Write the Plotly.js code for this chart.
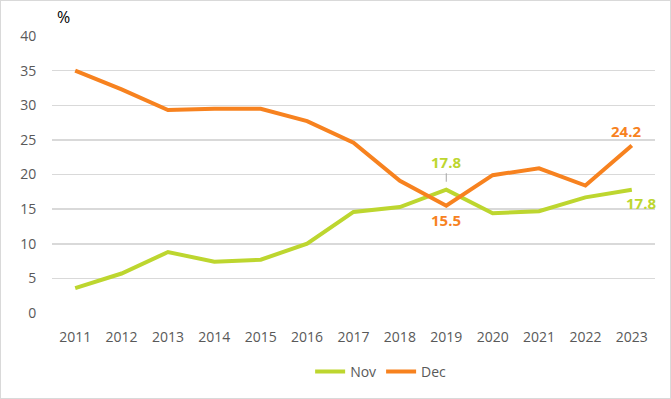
<!DOCTYPE html>
<html>
<head>
<meta charset="utf-8">
<script src="https://cdn.plot.ly/plotly-3.0.1.min.js"></script>
<style>
html,body{margin:0;padding:0;background:#fff;}
#wrap{position:relative;width:671px;height:399px;}
#chart{width:671px;height:399px;}
#frame{position:absolute;left:0;top:0;width:669px;height:397px;border:1px solid #d9d9d9;pointer-events:none;}
</style>
</head>
<body>
<div id="wrap"><div id="chart"></div><div id="frame"></div></div>
<script>
const years = ['2011','2012','2013','2014','2015','2016','2017','2018','2019','2020','2021','2022','2023'];
const nov = [3.6, 5.7, 8.8, 7.4, 7.7, 10.0, 14.6, 15.3, 17.8, 14.4, 14.7, 16.7, 17.8];
const dec = [35.0, 32.3, 29.3, 29.5, 29.5, 27.7, 24.6, 19.1, 15.5, 19.9, 20.9, 18.4, 24.2];
const yTicks = [0, 5, 10, 15, 20, 25, 30, 35, 40];

const green = '#bdd62f';
const orange = '#f7821f';
const font = 'Open Sans, Liberation Sans, sans-serif';

const traces = [
  {x: years, y: nov, name: 'Nov', type: 'scatter', mode: 'lines', line: {color: green, width: 4}},
  {x: years, y: dec, name: 'Dec', type: 'scatter', mode: 'lines', line: {color: orange, width: 4}}
];

const i19 = years.indexOf('2019');
const i23 = years.indexOf('2023');

const layout = {
  width: 671, height: 399,
  margin: {l: 52, r: 16, t: 36, b: 86, autoexpand: false},
  paper_bgcolor: '#fff', plot_bgcolor: '#fff',
  font: {family: font, size: 14, color: '#595959'},
  showlegend: true,
  legend: {orientation: 'h', x: 0.545, xanchor: 'center', y: -0.155, yanchor: 'top',
           font: {family: font, size: 14, color: '#595959'}},
  xaxis: {type: 'category', range: [-0.5, 12.5], showgrid: false, zeroline: false,
          showline: false, ticks: 'outside', ticklen: 11, tickcolor: 'rgba(0,0,0,0)',
          tickfont: {family: font, size: 14, color: '#595959'}, fixedrange: true},
  yaxis: {range: [0, 40], tickvals: yTicks, showgrid: true, gridcolor: '#d9d9d9', gridwidth: 1.5,
          zeroline: false, showline: false, ticks: 'outside', ticklen: 12, tickcolor: 'rgba(0,0,0,0)',
          tickfont: {family: font, size: 14, color: '#595959'}, fixedrange: true},
  annotations: [
    {xref: 'paper', yref: 'paper', x: 0.005, y: 1.02, xanchor: 'left', yanchor: 'bottom',
     text: '%', showarrow: false, font: {family: font, size: 16, color: '#000'}},
    {xref: 'x', yref: 'y', x: i19, y: nov[i19], text: '<b>' + nov[i19].toFixed(1) + '</b>', showarrow: true, arrowhead: 0,
     arrowwidth: 1, arrowcolor: '#a6a6a6', ax: 0, ay: -28, standoff: 8,
     font: {family: font, size: 15, color: green}},
    {xref: 'x', yref: 'y', x: i19, y: dec[i19], text: '<b>' + dec[i19].toFixed(1) + '</b>', showarrow: false,
     yshift: -14, font: {family: font, size: 15, color: orange}},
    {xref: 'x', yref: 'y', x: i23, y: dec[i23], text: '<b>' + dec[i23].toFixed(1) + '</b>', showarrow: false,
     yshift: 14, xshift: -6, font: {family: font, size: 15, color: orange}},
    {xref: 'x', yref: 'y', x: i23, y: nov[i23], text: '<b>' + nov[i23].toFixed(1) + '</b>', showarrow: false,
     yshift: -13, xshift: 9, font: {family: font, size: 15, color: green}}
  ]
};

Plotly.newPlot('chart', traces, layout, {displayModeBar: false, staticPlot: true});
</script>
</body>
</html>
